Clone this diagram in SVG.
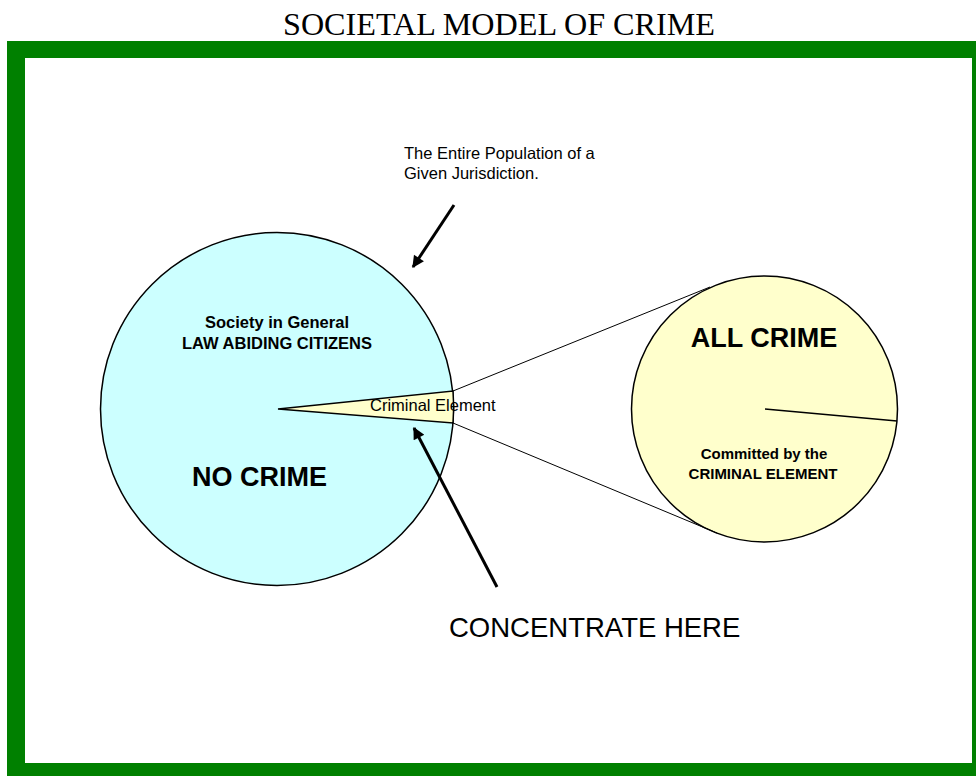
<svg xmlns="http://www.w3.org/2000/svg" width="976" height="776" viewBox="0 0 976 776">
  <defs>
    <marker id="ah" viewBox="0 0 10 10" refX="9" refY="5" markerWidth="5" markerHeight="4" orient="auto">
      <path d="M0,0 L10,5 L0,10 z" fill="#000"/>
    </marker>
    <style>
      .t { font-family: "Liberation Sans", Arial, sans-serif; fill: #000; }
      .b { font-weight: bold; }
      .circ { stroke: #000; stroke-width: 1.5; }
      .thin { stroke: #000; stroke-width: 1; fill: none; }
      .arrow { stroke: #000; stroke-width: 3; fill: none; marker-end: url(#ah); }
    </style>
  </defs>
  <rect x="0" y="0" width="976" height="776" fill="#fff"/>
  <text x="283" y="35" font-family="'Liberation Serif', 'Times New Roman', serif" font-size="31" textLength="432" lengthAdjust="spacingAndGlyphs">SOCIETAL MODEL OF CRIME</text>
  <g id="frame">
    <rect x="7" y="41" width="975" height="740" fill="#008000"/>
    <rect x="25" y="58" width="947" height="705" fill="#fff"/>
  </g>
  <g id="society">
    <circle class="circ" cx="277" cy="409" r="176.5" fill="#CCFFFF"/>
    <path class="circ" d="M278,409 L453,391 A176.5,176.5 0 0,1 453,423 Z" fill="#FFFFCC"/>
    <text class="t b" x="277" y="328" font-size="16.5" text-anchor="middle">Society in General</text>
    <text class="t b" x="277" y="349" font-size="16.5" text-anchor="middle">LAW ABIDING CITIZENS</text>
    <text class="t b" x="192" y="486" font-size="27">NO CRIME</text>
    <text class="t" x="370" y="411" font-size="16.5">Criminal Element</text>
  </g>
  <g id="allcrime">
    <circle class="circ" cx="764.5" cy="409" r="133" fill="#FFFFCC"/>
    <line x1="765" y1="409" x2="897" y2="421" stroke="#000" stroke-width="1.5"/>
    <text class="t b" x="764" y="347" font-size="27" text-anchor="middle">ALL CRIME</text>
    <text class="t b" x="764" y="459" font-size="15" text-anchor="middle">Committed by the</text>
    <text class="t b" x="763" y="479" font-size="15" text-anchor="middle">CRIMINAL ELEMENT</text>
  </g>
  <g id="population-label">
    <text class="t" x="404" y="159" font-size="16.5">The Entire Population of a</text>
    <text class="t" x="404" y="179" font-size="16.5">Given Jurisdiction.</text>
  </g>
  <g id="concentrate-label">
    <text class="t" x="449" y="637" font-size="27.5">CONCENTRATE HERE</text>
  </g>
  <g id="connectors">
    <line class="thin" x1="453" y1="391" x2="710" y2="287"/>
    <line class="thin" x1="453" y1="423" x2="717" y2="533"/>
    <line class="arrow" x1="454" y1="205" x2="413" y2="267"/>
    <line class="arrow" x1="497" y1="587" x2="414" y2="428"/>
  </g>
</svg>
